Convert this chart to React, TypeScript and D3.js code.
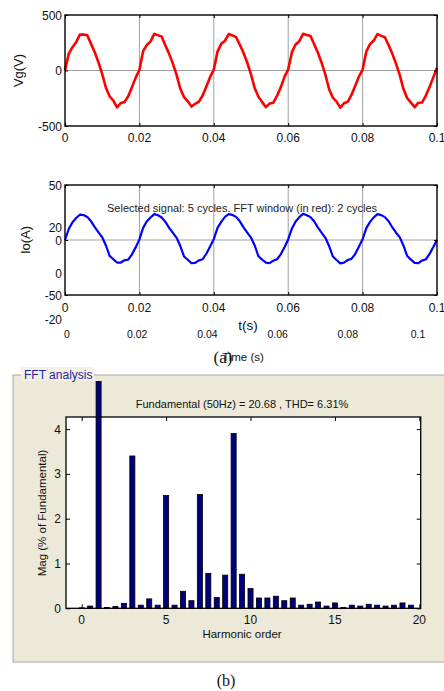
import React, { useEffect, useRef } from "react";
import * as d3 from "d3";

// grid voltage Vg(V), one sample per ms, 0 .. 0.1 s
const vgSamples = [
  0, 150, 210, 255, 323, 323, 317, 240, 165, 73, -33, -155, -232, -271, -332, -293, -284, -232, -150, -64,
  5, 175, 230, 262, 330, 318, 305, 225, 150, 62, -40, -165, -240, -278, -325, -300, -280, -225, -145, -60,
  8, 170, 240, 268, 328, 316, 300, 232, 158, 70, -35, -160, -236, -285, -330, -298, -290, -228, -152, -58,
  10, 165, 235, 265, 330, 320, 310, 235, 160, 68, -38, -168, -245, -280, -335, -295, -282, -220, -140, -55,
  6, 172, 238, 270, 328, 312, 300, 228, 150, 60, -42, -170, -250, -290, -330, -290, -288, -226, -148, -62,
  25,
];

// output current Io(A), same sampling
const ioSamples = [
  0, 10, 16, 20, 23, 22.7, 21, 17, 11.7, 7, 2.5, -5, -14.4, -17.5, -20.5, -20.5, -18.4, -17.8, -13, -6.7,
  0.5, 11, 17, 20.5, 23.5, 22.5, 20.5, 16.5, 11, 6.5, 2, -5.5, -15, -18, -21, -20.8, -18.5, -17.5, -12.5, -6,
  0.8, 11, 16.5, 21, 23.5, 22.8, 21, 17, 11.5, 6.8, 2.2, -5, -14.8, -17.8, -20.5, -21, -18.8, -17.5, -13, -6.5,
  0.5, 10.5, 16.8, 20.8, 23.8, 22.5, 20.8, 16.8, 11.2, 6.5, 2, -5.5, -15, -18.2, -21.2, -20.6, -18.2, -17.2, -12.8, -6.2,
  0.6, 10.8, 16.5, 20.6, 23.5, 22.6, 20.8, 17, 11.4, 6.6, 2.4, -5.2, -14.6, -17.8, -20.8, -21, -18.6, -17.6, -12.6, -6.4,
  0.2,
];
const sampleStep = 0.001;

const timeTicks = [0, 0.02, 0.04, 0.06, 0.08, 0.1];
const vgTicks = [-500, 0, 500];
const ioTicks = [-50, 0, 50];
const ghostIoTicks = [-20, 0, 20];

// FFT bars
const harmonicOrder = [
  0, 0.5, 1, 1.5, 2, 2.5, 3, 3.5, 4, 4.5, 5, 5.5, 6, 6.5, 7, 7.5, 8, 8.5, 9, 9.5, 10,
  10.5, 11, 11.5, 12, 12.5, 13, 13.5, 14, 14.5, 15, 15.5, 16, 16.5, 17, 17.5, 18, 18.5, 19, 19.5,
];
const harmonicMag = [
  0.01, 0.05, 100, 0.02, 0.04, 0.11, 3.4, 0.07, 0.21, 0.07, 2.52, 0.07, 0.38, 0.17, 2.54, 0.78, 0.24, 0.74, 3.9, 0.76, 0.44,
  0.23, 0.23, 0.27, 0.17, 0.23, 0.07, 0.09, 0.14, 0.05, 0.12, 0.02, 0.07, 0.05, 0.09, 0.07, 0.05, 0.07, 0.12, 0.07,
];
const fftXTicks = [0, 5, 10, 15, 20];
const fftYTicks = [0, 1, 2, 3, 4];

const FONT = "'Liberation Sans', Arial, sans-serif";
const SERIF = "'Liberation Serif', 'Times New Roman', serif";

const App = () => {
  const ref = useRef<SVGSVGElement>(null);

  useEffect(() => {
    const svg = d3.select(ref.current);
    svg.selectAll("*").remove();

    const t = (i: number) => i * sampleStep;

    // generic waveform axes
    const wavePlot = (
      samples: number[],
      y: d3.ScaleLinear<number, number>,
      yTicks: number[],
      color: string,
      lw: number,
      labelY: number,
      ylabel: string,
      ylabelX: number
    ) => {
      const x = d3.scaleLinear().domain([0, 0.1]).range([65, 437]);
      const [y0, y1] = y.range();
      const g = svg.append("g");
      g.append("rect")
        .attr("x", 65).attr("y", y1).attr("width", 372).attr("height", y0 - y1)
        .attr("fill", "white");
      // grid
      g.selectAll(".vg")
        .data(timeTicks.slice(1, -1))
        .enter().append("line")
        .attr("x1", (d) => x(d)).attr("x2", (d) => x(d))
        .attr("y1", y1).attr("y2", y0)
        .attr("stroke", "#a0a0a0").attr("stroke-width", 1);
      g.append("line")
        .attr("x1", 65).attr("x2", 437).attr("y1", y(0)).attr("y2", y(0))
        .attr("stroke", "#a0a0a0").attr("stroke-width", 1);
      // curve
      const line = d3.line<number>().x((d, i) => x(t(i))).y((d) => y(d));
      g.append("path")
        .datum(samples)
        .attr("d", line)
        .attr("fill", "none")
        .attr("stroke", color)
        .attr("stroke-width", lw)
        .attr("stroke-linejoin", "round");
      // box + axes (inward ticks)
      g.append("g")
        .attr("transform", `translate(0,${y0})`)
        .call(d3.axisBottom(x).tickValues(timeTicks).tickSize(-3).tickFormat(() => ""))
        .call((a) => a.select(".domain").remove());
      g.append("g")
        .attr("transform", `translate(0,${y1})`)
        .call(d3.axisTop(x).tickValues(timeTicks).tickSize(-3).tickFormat(() => ""))
        .call((a) => a.select(".domain").remove());
      g.append("g")
        .attr("transform", `translate(65,0)`)
        .call(d3.axisLeft(y).tickValues(yTicks).tickSize(-3).tickFormat(() => ""))
        .call((a) => a.select(".domain").remove());
      g.append("g")
        .attr("transform", `translate(437,0)`)
        .call(d3.axisRight(y).tickValues(yTicks).tickSize(-3).tickFormat(() => ""))
        .call((a) => a.select(".domain").remove());
      g.selectAll(".tick line").attr("stroke", "#000");
      g.append("rect")
        .attr("x", 65).attr("y", y1).attr("width", 372).attr("height", y0 - y1)
        .attr("fill", "none").attr("stroke", "#000").attr("stroke-width", 1.4);
      // labels
      g.selectAll(".xl")
        .data(timeTicks)
        .enter().append("text")
        .attr("x", (d) => x(d)).attr("y", labelY)
        .attr("text-anchor", "middle")
        .attr("font-family", FONT).attr("font-size", 12).attr("fill", "#111")
        .text((d) => String(d));
      g.selectAll(".yl")
        .data(yTicks)
        .enter().append("text")
        .attr("x", 62).attr("y", (d) => y(d) + 4.5)
        .attr("text-anchor", "end")
        .attr("font-family", FONT).attr("font-size", 12).attr("fill", "#111")
        .text((d) => String(d));
      g.append("text")
        .attr("transform", `translate(${ylabelX},${(y0 + y1) / 2}) rotate(-90)`)
        .attr("text-anchor", "middle")
        .attr("font-family", FONT).attr("font-size", 13).attr("fill", "#111")
        .text(ylabel);
      return g;
    };

    // (a) upper: Vg
    const yVg = d3.scaleLinear().domain([-500, 500]).range([126, 15]);
    wavePlot(vgSamples, yVg, vgTicks, "#ff0000", 2.6, 142, "Vg(V)", 23);

    // (a) lower: Io
    const yIo = d3.scaleLinear().domain([-50, 50]).range([295, 185]);
    const gIo = wavePlot(ioSamples, yIo, ioTicks, "#0000ff", 2.2, 312, "Io(A)", 30);

    // leftovers of the original scope figure underneath
    const yGhost = d3.scaleLinear().domain([-20, 20]).range([319, 227]);
    gIo.selectAll(".gy")
      .data(ghostIoTicks)
      .enter().append("text")
      .attr("x", 62).attr("y", (d) => yGhost(d) + 4.5)
      .attr("text-anchor", "end")
      .attr("font-family", FONT).attr("font-size", 12).attr("fill", "#111")
      .text((d) => String(d));
    const xGhost = d3.scaleLinear().domain([0, 0.1]).range([67, 418]);
    gIo.selectAll(".gx")
      .data(timeTicks)
      .enter().append("text")
      .attr("x", (d) => xGhost(d)).attr("y", 338)
      .attr("text-anchor", "middle")
      .attr("font-family", FONT).attr("font-size", 10.5).attr("fill", "#111")
      .text((d) => String(d));
    svg.append("text")
      .attr("x", 242).attr("y", 212)
      .attr("text-anchor", "middle")
      .attr("font-family", FONT).attr("font-size", 11).attr("fill", "#222")
      .text("Selected signal: 5 cycles. FFT window (in red): 2 cycles");
    svg.append("text")
      .attr("x", 248).attr("y", 330)
      .attr("text-anchor", "middle")
      .attr("font-family", FONT).attr("font-size", 13.5).attr("fill", "#111")
      .text("t(s)");
    svg.append("text")
      .attr("x", 243).attr("y", 361)
      .attr("text-anchor", "middle")
      .attr("font-family", FONT).attr("font-size", 11.5).attr("fill", "#111")
      .text("Time (s)");
    svg.append("text")
      .attr("x", 223).attr("y", 363)
      .attr("text-anchor", "middle")
      .attr("font-family", SERIF).attr("font-size", 17).attr("fill", "#111")
      .text("(a)");

    // (b) FFT panel
    const panel = svg.append("g");
    panel.append("rect")
      .attr("x", 13).attr("y", 375).attr("width", 440).attr("height", 287)
      .attr("fill", "#ece9d8").attr("stroke", "#a8a8a0").attr("stroke-width", 1);
    panel.append("rect")
      .attr("x", 21).attr("y", 367).attr("width", 73).attr("height", 14)
      .attr("fill", "#f3f1e6");
    panel.append("text")
      .attr("x", 24).attr("y", 379)
      .attr("font-family", FONT).attr("font-size", 12).attr("fill", "#2424a8")
      .text("FFT analysis");

    const xF = d3.scaleLinear().domain([-0.93, 20.08]).range([66, 420.7]);
    const yF = d3.scaleLinear().domain([0, 4.27]).range([608.3, 417]);
    panel.append("rect")
      .attr("x", 66).attr("y", 417).attr("width", 354.7).attr("height", 191.3)
      .attr("fill", "white");

    svg.append("defs").append("clipPath").attr("id", "panelClip")
      .append("rect").attr("x", 13).attr("y", 381).attr("width", 440).attr("height", 281);

    const bw = xF(0.3) - xF(0);
    panel.append("g")
      .attr("clip-path", "url(#panelClip)")
      .selectAll("rect")
      .data(harmonicOrder)
      .enter().append("rect")
      .attr("x", (d) => xF(d) - bw / 2)
      .attr("y", (d, i) => yF(harmonicMag[i]))
      .attr("width", bw)
      .attr("height", (d, i) => yF(0) - yF(harmonicMag[i]))
      .attr("fill", "#00007c")
      .attr("stroke", "#000")
      .attr("stroke-width", 0.8);

    const ax = panel.append("g");
    ax.append("g")
      .attr("transform", `translate(0,608.3)`)
      .call(d3.axisBottom(xF).tickValues(fftXTicks).tickSize(-4).tickFormat(() => ""))
      .call((a) => a.select(".domain").remove());
    ax.append("g")
      .attr("transform", `translate(0,417)`)
      .call(d3.axisTop(xF).tickValues(fftXTicks).tickSize(-4).tickFormat(() => ""))
      .call((a) => a.select(".domain").remove());
    ax.append("g")
      .attr("transform", `translate(66,0)`)
      .call(d3.axisLeft(yF).tickValues(fftYTicks).tickSize(-4).tickFormat(() => ""))
      .call((a) => a.select(".domain").remove());
    ax.append("g")
      .attr("transform", `translate(420.7,0)`)
      .call(d3.axisRight(yF).tickValues(fftYTicks).tickSize(-4).tickFormat(() => ""))
      .call((a) => a.select(".domain").remove());
    ax.selectAll(".tick line").attr("stroke", "#000");
    ax.append("rect")
      .attr("x", 66).attr("y", 417).attr("width", 354.7).attr("height", 191.3)
      .attr("fill", "none").attr("stroke", "#000").attr("stroke-width", 1.3);

    ax.selectAll(".fx")
      .data(fftXTicks)
      .enter().append("text")
      .attr("x", (d) => xF(d)).attr("y", 624)
      .attr("text-anchor", "middle")
      .attr("font-family", FONT).attr("font-size", 12).attr("fill", "#111")
      .text((d) => String(d));
    ax.selectAll(".fy")
      .data(fftYTicks)
      .enter().append("text")
      .attr("x", 61).attr("y", (d) => yF(d) + 4.5)
      .attr("text-anchor", "end")
      .attr("font-family", FONT).attr("font-size", 12).attr("fill", "#111")
      .text((d) => String(d));
    ax.append("text")
      .attr("x", 242).attr("y", 408)
      .attr("text-anchor", "middle")
      .attr("font-family", FONT).attr("font-size", 11).attr("fill", "#111")
      .text("Fundamental (50Hz) = 20.68 , THD= 6.31%");
    ax.append("text")
      .attr("x", 242).attr("y", 638)
      .attr("text-anchor", "middle")
      .attr("font-family", FONT).attr("font-size", 11.5).attr("fill", "#111")
      .text("Harmonic order");
    ax.append("text")
      .attr("transform", `translate(46,513) rotate(-90)`)
      .attr("text-anchor", "middle")
      .attr("font-family", FONT).attr("font-size", 11.5).attr("fill", "#111")
      .text("Mag (% of Fundamental)");

    svg.append("text")
      .attr("x", 226).attr("y", 686)
      .attr("text-anchor", "middle")
      .attr("font-family", SERIF).attr("font-size", 16).attr("fill", "#111")
      .text("(b)");
  }, []);

  return (
    <svg
      ref={ref}
      width={444}
      height={691}
      style={{ position: "absolute", left: 0, top: 0, background: "white" }}
    />
  );
};

export default App;
